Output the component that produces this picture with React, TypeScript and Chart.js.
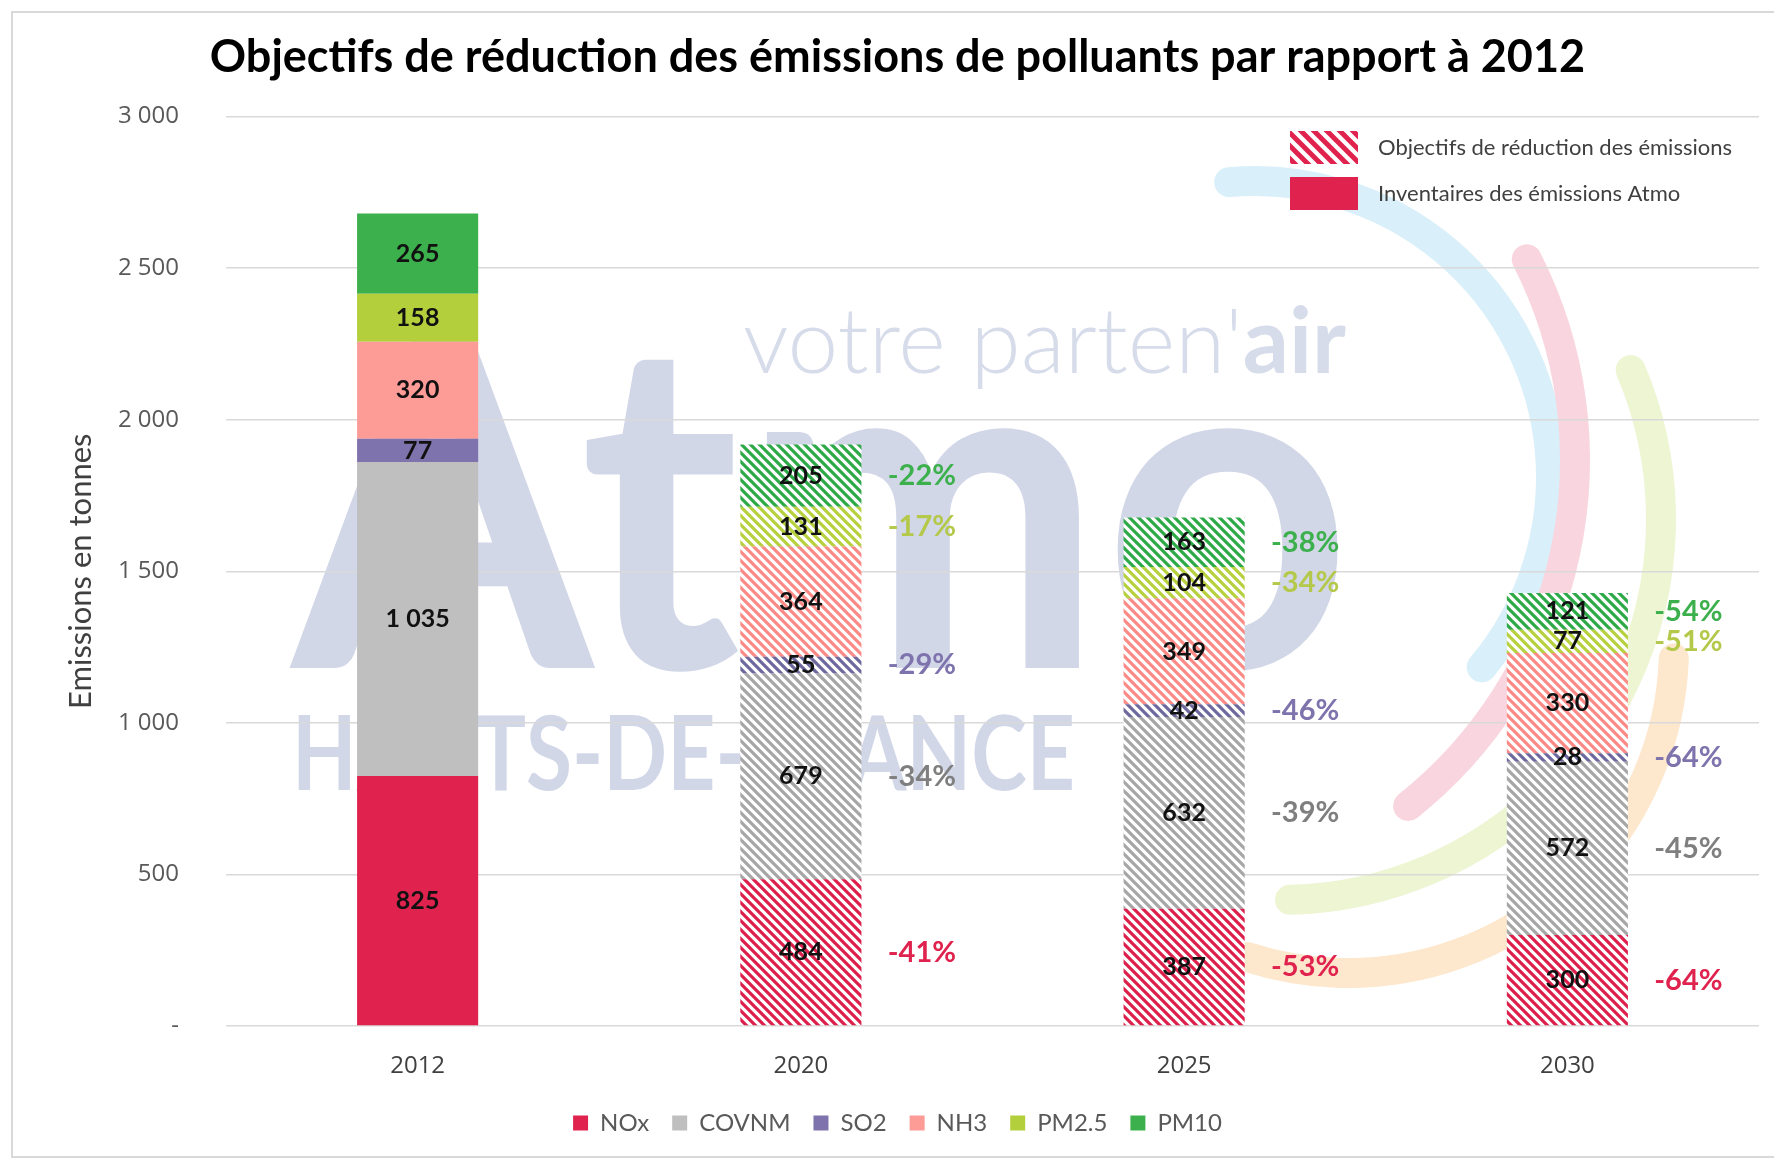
import React, { useEffect, useRef } from 'react';
import { Chart, registerables } from 'chart.js';

Chart.register(...registerables);

// ---------- data ----------
const categories = ['2012', '2020', '2025', '2030'];
const pollutants = ['NOx', 'COVNM', 'SO2', 'NH3', 'PM2.5', 'PM10'];
const noxValues = [825, 484, 387, 300];
const covnmValues = [1035, 679, 632, 572];
const so2Values = [77, 55, 42, 28];
const nh3Values = [320, 364, 349, 330];
const pm25Values = [158, 131, 104, 77];
const pm10Values = [265, 205, 163, 121];
const noxReduction = ['', '-41%', '-53%', '-64%'];
const covnmReduction = ['', '-34%', '-39%', '-45%'];
const so2Reduction = ['', '-29%', '-46%', '-64%'];
const nh3Reduction = ['', '', '', ''];
const pm25Reduction = ['', '-17%', '-34%', '-51%'];
const pm10Reduction = ['', '-22%', '-38%', '-54%'];
const isInventory = [true, false, false, false];
const yTickValues = [0, 500, 1000, 1500, 2000, 2500, 3000];
const titleText = 'Objectifs de réduction des émissions de polluants par rapport à 2012';
const yTitleText = 'Emissions en tonnes';
const objectiveLegendTexts = ['Objectifs de réduction des émissions', 'Inventaires des émissions Atmo'];

const seriesValues = [noxValues, covnmValues, so2Values, nh3Values, pm25Values, pm10Values];
const seriesReductions = [noxReduction, covnmReduction, so2Reduction, nh3Reduction, pm25Reduction, pm10Reduction];

// ---------- styles ----------
const solidColors = ['#e0234e', '#bfbfbf', '#7f73ad', '#fd9b96', '#b3cf3c', '#3cb04c'];
const stripeColors = ['#dc1f4b', '#a6a6a6', '#6d689e', '#fb8a86', '#b6d03e', '#2ea947'];
const pctColors = ['#e0234e', '#7f7f7f', '#7f73ad', '#fd9b96', '#b4c84a', '#3cb04c'];

const fmt = (n: number) => (n === 0 ? '-' : String(n).replace(/\B(?=(\d{3})+(?!\d))/g, ' '));

function makeHatch(color: string, period = 9, lw = 3.2): CanvasPattern | string {
  const c = document.createElement('canvas');
  c.width = period;
  c.height = period;
  const g = c.getContext('2d');
  if (!g) return color;
  g.fillStyle = '#ffffff';
  g.fillRect(0, 0, period, period);
  g.strokeStyle = color;
  g.lineWidth = lw;
  g.beginPath();
  for (let k = -1; k <= 1; k++) {
    g.moveTo(-period, -period + k * period);
    g.lineTo(2 * period, 2 * period + k * period);
  }
  g.stroke();
  const p = g.createPattern(c, 'repeat');
  return p || color;
}

const backgroundPlugin = {
  id: 'bgWatermark',
  beforeDraw(chart: any) {
    const ctx: CanvasRenderingContext2D = chart.ctx;
    const W = chart.width;
    const H = chart.height;
    ctx.save();
    ctx.fillStyle = '#ffffff';
    ctx.fillRect(0, 0, W, H);
    // frame
    ctx.strokeStyle = '#d9d9d9';
    ctx.lineWidth = 2;
    ctx.beginPath();
    ctx.moveTo(W, 12);
    ctx.lineTo(12, 12);
    ctx.lineTo(12, 1157);
    ctx.lineTo(W, 1157);
    ctx.stroke();
    // decorative arcs
    const arcs = [
      { x: 1255, y: 477, r: 296, a0: -95, a1: 40, c: '#d9eff9' },
      { x: 1133, y: 460, r: 442, a0: -27, a1: 51.5, c: '#f9d6df' },
      { x: 1280, y: 519, r: 381, a0: -23, a1: 88.5, c: '#edf5d3' },
      { x: 1348, y: 647, r: 326, a0: 2, a1: 108, c: '#fde7cd' },
    ];
    ctx.lineCap = 'round';
    ctx.lineWidth = 30;
    for (const a of arcs) {
      ctx.strokeStyle = a.c;
      ctx.beginPath();
      ctx.arc(a.x, a.y, a.r, (a.a0 * Math.PI) / 180, (a.a1 * Math.PI) / 180);
      ctx.stroke();
    }
    // watermark text
    ctx.textAlign = 'left';
    ctx.textBaseline = 'alphabetic';
    ctx.fillStyle = '#d2d7e8';
    ctx.font = 'bold 460px Lato';
    ctx.fillText('Atmo', 292, 668, 1060);
    ctx.font = 'bold 104px Lato';
    ctx.fillText('HAUTS-DE-FRANCE', 292, 790, 783);
    ctx.fillStyle = '#d7dcea';
    ctx.font = '300 100px Lato';
    const w1 = ctx.measureText("votre parten'").width;
    ctx.font = 'bold 100px Lato';
    const w2 = ctx.measureText('air').width;
    const s = 603 / (w1 + w2);
    ctx.font = `300 ${100 * s}px Lato`;
    ctx.fillText("votre parten'", 743, 373);
    ctx.font = `bold ${100 * s}px Lato`;
    ctx.fillText('air', 743 + w1 * s, 373);
    ctx.restore();
  },
};

const labelsPlugin = {
  id: 'valueLabels',
  afterDatasetsDraw(chart: any) {
    const ctx: CanvasRenderingContext2D = chart.ctx;
    ctx.save();
    ctx.textBaseline = 'middle';
    ctx.textAlign = 'center';
    chart.data.datasets.forEach((ds: any, i: number) => {
      const meta = chart.getDatasetMeta(i);
      meta.data.forEach((el: any, j: number) => {
        const { x, y, base } = el.getProps(['x', 'y', 'base'], true);
        const cy = (y + base) / 2;
        ctx.font = 'bold 25px Lato';
        ctx.fillStyle = '#111111';
        ctx.fillText(fmt(ds.data[j]), x, cy);
        const pct = seriesReductions[i][j];
        if (pct) {
          ctx.font = 'bold 29px Lato';
          ctx.fillStyle = pctColors[i];
          ctx.fillText(pct, x + 121, cy);
        }
      });
    });
    ctx.restore();
  },
};

const objectiveLegendPlugin = {
  id: 'objectiveLegend',
  afterDraw(chart: any) {
    const ctx: CanvasRenderingContext2D = chart.ctx;
    ctx.save();
    ctx.fillStyle = makeHatch(solidColors[0], 13, 5) as any;
    ctx.fillRect(1290, 131, 68, 33);
    ctx.fillStyle = solidColors[0];
    ctx.fillRect(1290, 177, 68, 33);
    ctx.font = '22px Lato';
    ctx.fillStyle = '#404040';
    ctx.textAlign = 'left';
    ctx.textBaseline = 'middle';
    ctx.fillText(objectiveLegendTexts[0], 1378, 148);
    ctx.fillText(objectiveLegendTexts[1], 1378, 194);
    ctx.restore();
  },
};

export default function App() {
  const ref = useRef<HTMLCanvasElement | null>(null);
  useEffect(() => {
    document.body.style.margin = '0';
    const canvas = ref.current;
    if (!canvas) return;
    const datasets = seriesValues.map((vals, i) => ({
      label: pollutants[i],
      data: vals,
      backgroundColor: vals.map((_, j) => (isInventory[j] ? solidColors[i] : makeHatch(stripeColors[i]))),
      borderWidth: 0,
      barPercentage: 0.316,
      categoryPercentage: 1,
    }));
    const chart = new Chart(canvas, {
      type: 'bar',
      data: { labels: categories, datasets: datasets as any },
      plugins: [backgroundPlugin, labelsPlugin, objectiveLegendPlugin],
      options: {
        animation: false,
        responsive: false,
        devicePixelRatio: 1,
        layout: { padding: { left: 36, right: 15, top: 14, bottom: 14 } },
        plugins: {
          title: {
            display: true,
            text: titleText,
            color: '#000000',
            font: { family: 'Lato', size: 45, weight: 'bold' },
            padding: { top: 16, bottom: 32.5 },
          },
          legend: {
            position: 'bottom',
            labels: {
              boxWidth: 15,
              boxHeight: 15,
              padding: 23,
              color: '#595959',
              font: { family: 'Lato', size: 24 },
              generateLabels: () =>
                pollutants.map((p, i) => ({
                  text: p,
                  fillStyle: solidColors[i],
                  strokeStyle: solidColors[i],
                  lineWidth: 0,
                  hidden: false,
                  datasetIndex: i,
                  fontColor: '#595959',
                })),
            },
          },
          tooltip: { enabled: false },
        },
        scales: {
          x: {
            stacked: true,
            grid: { display: false },
            border: { display: false },
            ticks: { color: '#404040', font: { family: 'Open Sans', size: 24 }, padding: 17.5 },
            afterFit: (s: any) => {
              s.height = 62;
            },
          },
          y: {
            stacked: true,
            min: 0,
            max: 3000,
            afterBuildTicks: (axis: any) => {
              axis.ticks = yTickValues.map((v) => ({ value: v }));
            },
            ticks: {
              color: '#595959',
              font: { family: 'Open Sans', size: 24 },
              padding: 47,
              callback: (v: any) => fmt(Number(v)),
            },
            grid: { color: '#d9d9d9', lineWidth: 1.5, drawTicks: false },
            border: { display: false },
            title: {
              display: true,
              text: yTitleText,
              color: '#404040',
              font: { family: 'Lato', size: 31 },
              padding: { top: 26.4, bottom: 0 },
            },
            afterFit: (s: any) => {
              s.width = 190;
            },
          },
        },
      },
    });
    return () => chart.destroy();
  }, []);
  return (
    <div style={{ position: 'absolute', left: 0, top: 0, width: 1774, height: 1159 }}>
      <canvas ref={ref} width={1774} height={1159} style={{ width: 1774, height: 1159 }} />
    </div>
  );
}
